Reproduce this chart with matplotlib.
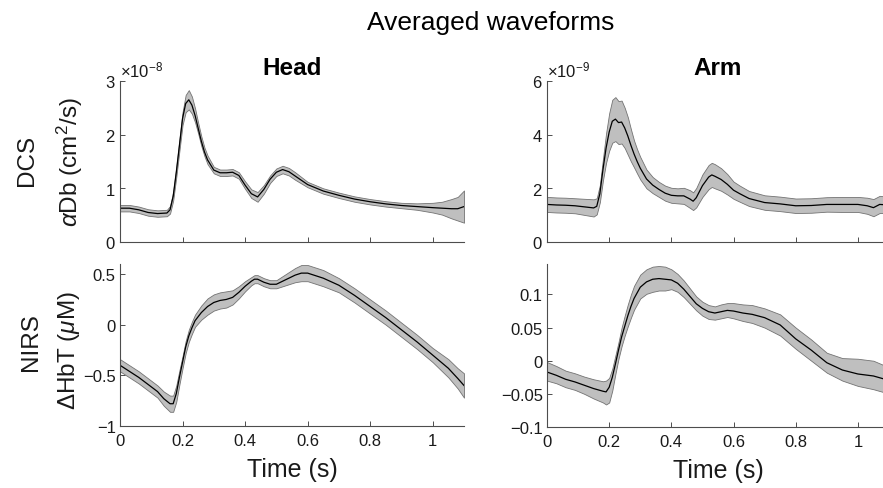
import numpy as np
import matplotlib
matplotlib.use("Agg")
import matplotlib.pyplot as plt
from matplotlib.ticker import ScalarFormatter, FuncFormatter, MultipleLocator

plt.rcParams['font.family'] = ['Liberation Sans', 'DejaVu Sans']
plt.rcParams['mathtext.fontset'] = 'custom'
plt.rcParams['mathtext.rm'] = 'Liberation Sans'
plt.rcParams['mathtext.it'] = 'Liberation Sans:italic'
plt.rcParams['mathtext.bf'] = 'Liberation Sans:bold'

# ---- head, DCS (x1e-8 cm^2/s) ----
head_dcs_t = [0, 0.03, 0.06, 0.09, 0.12, 0.15, 0.16, 0.17, 0.18, 0.19, 0.20, 0.21, 0.22, 0.23, 0.24,
              0.25, 0.26, 0.27, 0.28, 0.30, 0.32, 0.34, 0.36, 0.38, 0.40, 0.42, 0.44, 0.46, 0.48,
              0.50, 0.52, 0.54, 0.56, 0.58, 0.60, 0.65, 0.70, 0.75, 0.80, 0.85, 0.90, 0.95, 1.00,
              1.03, 1.06, 1.08, 1.10]
head_dcs_mean = [0.63, 0.63, 0.60, 0.55, 0.53, 0.54, 0.60, 0.85, 1.30, 1.80, 2.30, 2.58, 2.65, 2.55, 2.36,
                 2.12, 1.88, 1.68, 1.53, 1.34, 1.29, 1.29, 1.30, 1.24, 1.06, 0.90, 0.84, 0.98, 1.17,
                 1.30, 1.35, 1.31, 1.23, 1.15, 1.07, 0.95, 0.87, 0.80, 0.75, 0.71, 0.68, 0.66, 0.64,
                 0.63, 0.62, 0.62, 0.66]
head_dcs_err = [0.06, 0.06, 0.06, 0.06, 0.06, 0.06, 0.07, 0.08, 0.09, 0.10, 0.12, 0.16, 0.18, 0.16, 0.13,
                0.10, 0.09, 0.08, 0.08, 0.06, 0.06, 0.06, 0.06, 0.06, 0.07, 0.08, 0.09, 0.08, 0.07,
                0.07, 0.07, 0.07, 0.07, 0.06, 0.05, 0.05, 0.05, 0.05, 0.05, 0.05, 0.05, 0.06, 0.09,
                0.12, 0.18, 0.22, 0.30]

# ---- head, NIRS (uM) ----
head_nirs_t = [0, 0.03, 0.06, 0.09, 0.12, 0.14, 0.16, 0.17, 0.18, 0.19, 0.20, 0.21, 0.22, 0.23, 0.24,
               0.26, 0.28, 0.30, 0.32, 0.34, 0.36, 0.38, 0.40, 0.42, 0.43, 0.44, 0.46, 0.48, 0.50,
               0.52, 0.54, 0.56, 0.58, 0.60, 0.62, 0.65, 0.70, 0.75, 0.80, 0.85, 0.90, 0.95, 1.00,
               1.05, 1.08, 1.10]
head_nirs_mean = [-0.40, -0.46, -0.52, -0.59, -0.66, -0.73, -0.78, -0.78, -0.68, -0.52, -0.37, -0.22,
                  -0.11, -0.03, 0.04, 0.12, 0.18, 0.22, 0.24, 0.25, 0.27, 0.32, 0.38, 0.43, 0.45,
                  0.45, 0.42, 0.40, 0.40, 0.43, 0.46, 0.49, 0.51, 0.51, 0.49, 0.46, 0.39, 0.29, 0.18,
                  0.07, -0.05, -0.17, -0.30, -0.43, -0.53, -0.60]
head_nirs_err = [0.06, 0.06, 0.06, 0.06, 0.06, 0.07, 0.08, 0.08, 0.08, 0.07, 0.06, 0.06, 0.06, 0.06,
                 0.06, 0.07, 0.08, 0.08, 0.08, 0.08, 0.07, 0.06, 0.05, 0.04, 0.04, 0.04, 0.04, 0.04,
                 0.04, 0.05, 0.06, 0.07, 0.08, 0.08, 0.08, 0.08, 0.07, 0.07, 0.07, 0.07, 0.07, 0.07,
                 0.07, 0.09, 0.10, 0.12]

# ---- arm, DCS (x1e-9 cm^2/s) ----
arm_dcs_t = [0, 0.03, 0.06, 0.09, 0.12, 0.15, 0.16, 0.17, 0.18, 0.19, 0.20, 0.21, 0.22, 0.23, 0.24,
             0.25, 0.26, 0.27, 0.28, 0.29, 0.30, 0.32, 0.34, 0.36, 0.38, 0.40, 0.42, 0.44, 0.46,
             0.47, 0.48, 0.50, 0.52, 0.53, 0.54, 0.56, 0.58, 0.60, 0.62, 0.65, 0.70, 0.75, 0.80,
             0.85, 0.90, 0.95, 1.00, 1.03, 1.05, 1.07, 1.10]
arm_dcs_mean = [1.40, 1.38, 1.37, 1.35, 1.31, 1.27, 1.33, 1.80, 2.70, 3.50, 4.10, 4.50, 4.58, 4.45, 4.47,
                4.25, 3.95, 3.60, 3.28, 3.00, 2.75, 2.35, 2.12, 1.96, 1.82, 1.74, 1.72, 1.72, 1.60,
                1.52, 1.65, 2.10, 2.42, 2.50, 2.45, 2.33, 2.15, 1.93, 1.80, 1.62, 1.47, 1.42, 1.35,
                1.36, 1.40, 1.40, 1.40, 1.35, 1.28, 1.40, 1.38]
arm_dcs_err = [0.28, 0.28, 0.28, 0.28, 0.30, 0.32, 0.30, 0.32, 0.40, 0.55, 0.70, 0.80, 0.82, 0.80, 0.80,
               0.75, 0.70, 0.60, 0.50, 0.45, 0.42, 0.35, 0.30, 0.28, 0.28, 0.28, 0.28, 0.30, 0.33,
               0.33, 0.36, 0.42, 0.45, 0.45, 0.45, 0.42, 0.38, 0.32, 0.30, 0.28, 0.27, 0.27, 0.27,
               0.27, 0.27, 0.28, 0.28, 0.30, 0.32, 0.32, 0.30]

# ---- arm, NIRS (uM) ----
arm_nirs_t = [0, 0.03, 0.06, 0.09, 0.12, 0.15, 0.18, 0.19, 0.20, 0.21, 0.22, 0.23, 0.24, 0.25, 0.26,
              0.27, 0.28, 0.30, 0.32, 0.34, 0.36, 0.38, 0.40, 0.42, 0.44, 0.46, 0.48, 0.50, 0.52,
              0.54, 0.56, 0.58, 0.60, 0.63, 0.66, 0.70, 0.75, 0.80, 0.85, 0.90, 0.95, 1.00, 1.05,
              1.08, 1.10]
arm_nirs_mean = [-0.017, -0.022, -0.028, -0.032, -0.037, -0.042, -0.046, -0.047, -0.040, -0.025,
                 -0.005, 0.016, 0.036, 0.052, 0.068, 0.082, 0.094, 0.111, 0.119, 0.123,
                 0.124, 0.123, 0.122, 0.117, 0.108, 0.097, 0.086, 0.079, 0.074, 0.072,
                 0.074, 0.076, 0.075, 0.072, 0.070, 0.065, 0.054, 0.033, 0.016, -0.003,
                 -0.014, -0.020, -0.023, -0.027, -0.030]
arm_nirs_lower = [-0.030, -0.034, -0.040, -0.044, -0.050, -0.057, -0.063, -0.066, -0.063, -0.045,
                  -0.020, 0.003, 0.022, 0.038, 0.052, 0.065, 0.077, 0.094, 0.101, 0.104,
                  0.106, 0.106, 0.108, 0.104, 0.096, 0.086, 0.076, 0.068, 0.063, 0.062,
                  0.064, 0.066, 0.064, 0.060, 0.057, 0.050, 0.038, 0.018, 0.000, -0.018,
                  -0.030, -0.038, -0.043, -0.047, -0.050]
arm_nirs_upper = [-0.002, -0.008, -0.015, -0.019, -0.024, -0.028, -0.031, -0.030, -0.026, -0.012,
                  0.008, 0.028, 0.050, 0.068, 0.085, 0.100, 0.113, 0.130, 0.138, 0.142,
                  0.143, 0.142, 0.138, 0.131, 0.121, 0.109, 0.097, 0.089, 0.084, 0.082,
                  0.085, 0.087, 0.087, 0.085, 0.084, 0.079, 0.070, 0.050, 0.032, 0.012,
                  0.004, 0.003, 0.000, -0.006, -0.010]

W, H = 883, 489
fig = plt.figure(figsize=(W / 100, H / 100), dpi=100)


def add_px_axes(left, top, right, bottom):
    # axes placed by pixel box of the reference picture
    return fig.add_axes([left / W, 1 - bottom / H, (right - left) / W, (bottom - top) / H])


def draw_band(ax, t, mean, lower, upper):
    ax.fill_between(t, lower, upper, facecolor='0.75', edgecolor='0.45', linewidth=0.6)
    ax.plot(t, mean, color='black', linewidth=0.9)


def style_axes(ax):
    for side in ['top', 'right']:
        ax.spines[side].set_visible(False)
    for side in ['left', 'bottom']:
        ax.spines[side].set_color('0.3')
        ax.spines[side].set_linewidth(0.8)
    ax.tick_params(direction='in', length=3.5, width=0.7, color='0.3',
                   labelsize=12, labelcolor='0.1')
    ax.tick_params(axis='x', pad=5)
    ax.tick_params(axis='y', pad=3)
    ax.set_xlim(0, 1.1)
    ax.xaxis.set_major_locator(MultipleLocator(0.2))


minus_fmt = FuncFormatter(lambda v, p: ('%g' % round(v, 6)).replace('-', '\u2212'))

ax_hd = add_px_axes(120, 82, 464, 243)
ax_hn = add_px_axes(120, 265, 464, 427)
ax_ad = add_px_axes(547, 82, 889, 243)
ax_an = add_px_axes(547, 265, 889, 428)

hd_m = np.array(head_dcs_mean) * 1e-8
hd_e = np.array(head_dcs_err) * 1e-8
draw_band(ax_hd, head_dcs_t, hd_m, hd_m - hd_e, hd_m + hd_e)
ad_m = np.array(arm_dcs_mean) * 1e-9
ad_e = np.array(arm_dcs_err) * 1e-9
draw_band(ax_ad, arm_dcs_t, ad_m, ad_m - ad_e, ad_m + ad_e)
hn_m = np.array(head_nirs_mean)
hn_e = np.array(head_nirs_err)
draw_band(ax_hn, head_nirs_t, hn_m, hn_m - hn_e, hn_m + hn_e)
draw_band(ax_an, arm_nirs_t, arm_nirs_mean, arm_nirs_lower, arm_nirs_upper)

for ax in [ax_hd, ax_hn, ax_ad, ax_an]:
    style_axes(ax)

ax_hd.set_ylim(0, 3e-8)
ax_hd.yaxis.set_major_locator(MultipleLocator(1e-8))
ax_ad.set_ylim(0, 6e-9)
ax_ad.yaxis.set_major_locator(MultipleLocator(2e-9))
for ax in [ax_hd, ax_ad]:
    sf = ScalarFormatter(useMathText=True)
    sf.set_powerlimits((0, 0))
    ax.yaxis.set_major_formatter(sf)
    ax.yaxis.get_offset_text().set_fontsize(12)
    ax.yaxis.get_offset_text().set_color('0.1')
    ax.tick_params(axis='x', labelbottom=False)

ax_hn.set_ylim(-1, 0.6)
ax_hn.yaxis.set_major_locator(MultipleLocator(0.5))
ax_an.set_ylim(-0.1, 0.146)
ax_an.yaxis.set_major_locator(MultipleLocator(0.05))
for ax in [ax_hn, ax_an]:
    ax.yaxis.set_major_formatter(minus_fmt)
    ax.xaxis.set_major_formatter(minus_fmt)
    ax.set_xlabel('Time (s)', fontsize=18, color='0.1', va='baseline')
    ax.xaxis.set_label_coords(0.5, (427 - 477) / 162)

ax_hd.set_title('Head', fontsize=17.5, fontweight='bold', pad=5)
ax_ad.set_title('Arm', fontsize=17.5, fontweight='bold', pad=5)
fig.text(491 / W, 1 - 30 / H, 'Averaged waveforms', fontsize=19, ha='center', va='baseline')

# two-line row labels, placed by baseline
row_labels = [('DCS', 33, 160), ('$\\alpha$Db (cm$^2$/s)', 78, 162),
              ('NIRS', 37, 342), ('$\\Delta$HbT ($\\mu$M)', 75, 351)]
for txt, x, y in row_labels:
    fig.text(x / W, 1 - y / H, txt, fontsize=17.5, rotation=90, rotation_mode='anchor',
             ha='center', va='baseline', color='0.1')

fig.savefig('out.png', dpi=100)
